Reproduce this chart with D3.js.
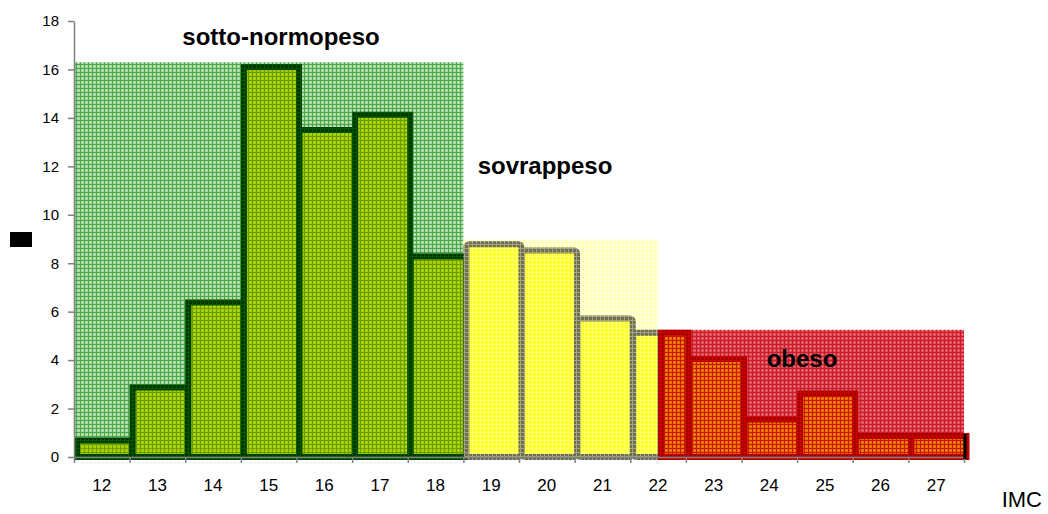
<!DOCTYPE html>
<html>
<head>
<meta charset="utf-8">
<script src="https://cdn.jsdelivr.net/npm/d3@7"></script>
<style>
  body { margin: 0; background: #fff; }
  svg { font-family: "Liberation Sans", Arial, sans-serif; display: block; }
</style>
</head>
<body>
<svg width="1048" height="514"></svg>
<script>
// IMC classes and counts
var categories = [12, 13, 14, 15, 16, 17, 18, 19, 20, 21, 22, 23, 24, 25, 26, 27];
var counts = [0.68, 2.87, 6.38, 16.1, 13.5, 14.13, 8.28, 8.78, 8.53, 5.72, 5.13, 4.05, 1.55, 2.62, 0.87, 0.87];

// weight zones (start/end on the IMC axis, height of the shaded area)
var zoneNames = ["sotto-normopeso", "sovrappeso", "obeso"];
var zoneStart = [12, 19, 22.5];
var zoneEnd = [19, 22.5, 28];
var zoneTop = [16.3, 8.97, 5.25];

var yTicks = [0, 2, 4, 6, 8, 10, 12, 14, 16, 18];

var svg = d3.select("svg");
var x = d3.scaleLinear().domain([12, 28]).range([74, 964]);
var y = d3.scaleLinear().domain([0, 18]).range([457, 21]);

// pattern fills (small grid like the original)
var defs = svg.append("defs");
function gridPattern(id, base, line, dot) {
  var p = defs.append("pattern")
    .attr("id", id)
    .attr("patternUnits", "userSpaceOnUse")
    .attr("width", 4)
    .attr("height", 4);
  p.append("rect").attr("width", 4).attr("height", 4).attr("fill", base);
  p.append("rect").attr("width", 4).attr("height", 1).attr("fill", line);
  p.append("rect").attr("width", 1).attr("height", 4).attr("fill", line);
  if (dot) p.append("rect").attr("x", 2).attr("y", 2).attr("width", 1).attr("height", 1).attr("fill", dot);
}
gridPattern("zone0", "#a8d8a4", "#4aa84a", "#d8f0d6");
gridPattern("zone1", "#ffffb8", "#ffffdc", null);
gridPattern("zone2", "#e04c58", "#c81e2a", "#ee9098");
gridPattern("bar0", "#a2ce00", "#6c9c00", "#c4e030");
gridPattern("bar1", "#ffff2c", "#ffff70", null);
gridPattern("bar2", "#e87000", "#c81800", "#f09a28");
gridPattern("edge0", "#003800", "#005800", null);
gridPattern("edge1", "#6e6e50", "#a4a484", null);
gridPattern("edge2", "#a80000", "#cc0000", null);

// shaded zones
svg.append("g")
  .selectAll("rect")
  .data(zoneNames)
  .enter()
  .append("rect")
  .attr("x", function (d, i) { return x(zoneStart[i]); })
  .attr("width", function (d, i) { return x(zoneEnd[i]) - x(zoneStart[i]); })
  .attr("y", function (d, i) { return y(zoneTop[i]); })
  .attr("height", function (d, i) { return y(0) - y(zoneTop[i]); })
  .attr("fill", function (d, i) { return "url(#zone" + i + ")"; });

// bars, cut into the zone they belong to
var bars = [];
zoneNames.forEach(function (z, zi) {
  categories.forEach(function (c, ci) {
    var a = Math.max(c, zoneStart[zi]);
    var b = Math.min(c + 1, zoneEnd[zi]);
    if (b > a) bars.push({ zone: zi, x0: a, x1: b, v: counts[ci] });
  });
});

svg.append("g")
  .selectAll("rect")
  .data(bars)
  .enter()
  .append("rect")
  .attr("x", function (d) { return x(d.x0) + 3; })
  .attr("width", function (d) { return x(d.x1) - x(d.x0) - 0.5; })
  .attr("y", function (d) { return y(d.v); })
  .attr("height", function (d) { return y(0) - y(d.v); })
  .attr("rx", function (d) { return d.zone === 1 ? 3 : 0; })
  .attr("fill", function (d) { return "url(#bar" + d.zone + ")"; })
  .attr("stroke", function (d) { return "url(#edge" + d.zone + ")"; })
  .attr("stroke-width", 6);

// axes
var yAxis = svg.append("g")
  .attr("transform", "translate(" + x(12) + ",0)")
  .call(d3.axisLeft(y).tickValues(yTicks).tickSize(6).tickPadding(9).tickSizeOuter(0));
yAxis.selectAll("text").attr("font-size", 15).attr("fill", "#000").style("font-family", "Liberation Sans Narrow, Liberation Sans, Arial");

var edges = categories.concat([28]);
var xAxis = svg.append("g")
  .attr("transform", "translate(0," + y(0) + ")")
  .call(d3.axisBottom(x).tickValues(edges).tickSize(6).tickFormat("").tickSizeOuter(0));

svg.selectAll(".domain, .tick line").attr("stroke", "#808080").attr("stroke-width", 1.5);

// end mark on the last bar
svg.append("line")
  .attr("x1", x(28) + 1).attr("x2", x(28) + 1)
  .attr("y1", y(counts[counts.length - 1]) - 2).attr("y2", y(0) + 2)
  .attr("stroke", "#000").attr("stroke-width", 3);

// category labels, centred in each bin
svg.append("g")
  .selectAll("text")
  .data(categories)
  .enter()
  .append("text")
  .attr("x", function (d) { return x(d + 0.5); })
  .attr("y", 491)
  .attr("text-anchor", "middle")
  .attr("font-size", 17)
  .text(function (d) { return d; });

// zone labels
var labelX = [281, 545, 802];
var labelY = [45, 174, 367];
svg.append("g")
  .selectAll("text")
  .data(zoneNames)
  .enter()
  .append("text")
  .attr("x", function (d, i) { return labelX[i]; })
  .attr("y", function (d, i) { return labelY[i]; })
  .attr("text-anchor", "middle")
  .attr("font-size", 24)
  .attr("font-weight", "bold")
  .text(function (d) { return d; });

// axis title
svg.append("text")
  .attr("x", 1042)
  .attr("y", 507)
  .attr("text-anchor", "end")
  .attr("font-size", 22)
  .text("IMC");

// garbled y title block as in the original
svg.append("rect")
  .attr("x", 10).attr("y", 232).attr("width", 22).attr("height", 15)
  .attr("fill", "#000");
</script>
</body>
</html>
